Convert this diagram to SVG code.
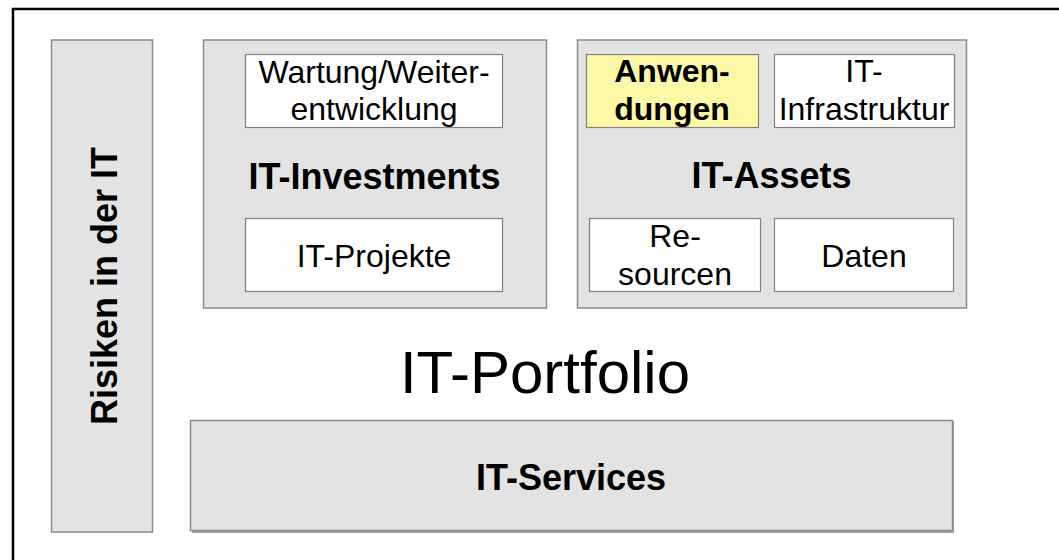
<svg xmlns="http://www.w3.org/2000/svg" width="1059" height="560" viewBox="0 0 1059 560">
<style>
.frame{fill:#ffffff;stroke:#000000;stroke-width:2.5}
.grp{fill:#e3e3e3;stroke:#8a8a8a;stroke-width:1.5}
.sub{fill:#ffffff;stroke:#808080;stroke-width:1.2}
.hl{fill:#fcf8a6;stroke:#808080;stroke-width:1.2}
.t{font-family:"Liberation Sans",Arial,sans-serif;fill:#000000;text-anchor:middle}
.r{font-size:32px}
.b{font-size:36px;font-weight:bold}
.bs{font-size:32px;font-weight:bold}
.big{font-size:60px}
</style>
<rect class="frame" x="13" y="9" width="1100" height="600"/>
<g id="risiken">
<rect class="grp" x="51.5" y="40" width="101" height="492"/>
<text class="t b" transform="translate(117,286) rotate(-90)" x="0" y="0">Risiken in der IT</text>
</g>
<g id="it-investments">
<rect class="grp" x="203.5" y="40" width="343" height="268"/>
<text class="t b" x="374.5" y="189">IT-Investments</text>
</g>
<g id="wartung">
<rect class="sub" x="245.5" y="54.5" width="257" height="73"/>
<text class="t r" x="374" y="83">Wartung/Weiter-</text>
<text class="t r" x="374" y="120">entwicklung</text>
</g>
<g id="it-projekte">
<rect class="sub" x="245.5" y="218.5" width="257" height="73"/>
<text class="t r" x="374" y="267">IT-Projekte</text>
</g>
<g id="it-assets">
<rect class="grp" x="577.5" y="40" width="389" height="268"/>
<text class="t b" x="771.5" y="188">IT-Assets</text>
</g>
<g id="anwendungen">
<rect class="hl" x="586.5" y="54.5" width="172" height="73"/>
<text class="t bs" x="672" y="82">Anwen-</text>
<text class="t bs" x="672" y="120">dungen</text>
</g>
<g id="it-infrastruktur">
<rect class="sub" x="774.5" y="54.5" width="180" height="73"/>
<text class="t r" x="864" y="82">IT-</text>
<text class="t r" x="864" y="120">Infrastruktur</text>
</g>
<g id="ressourcen">
<rect class="sub" x="589.5" y="218.5" width="171" height="73"/>
<text class="t r" x="675" y="247">Re-</text>
<text class="t r" x="675" y="285">sourcen</text>
</g>
<g id="daten">
<rect class="sub" x="774.5" y="218.5" width="179" height="73"/>
<text class="t r" x="864" y="267">Daten</text>
</g>
<g id="it-portfolio">
<text class="t big" x="545" y="393">IT-Portfolio</text>
</g>
<g id="it-services">
<rect x="192" y="422" width="762" height="111" fill="#a0a0a0"/>
<rect class="grp" x="190.5" y="420.5" width="762" height="110"/>
<text class="t b" x="571" y="490">IT-Services</text>
</g>
<g id="connectors"></g>
</svg>
